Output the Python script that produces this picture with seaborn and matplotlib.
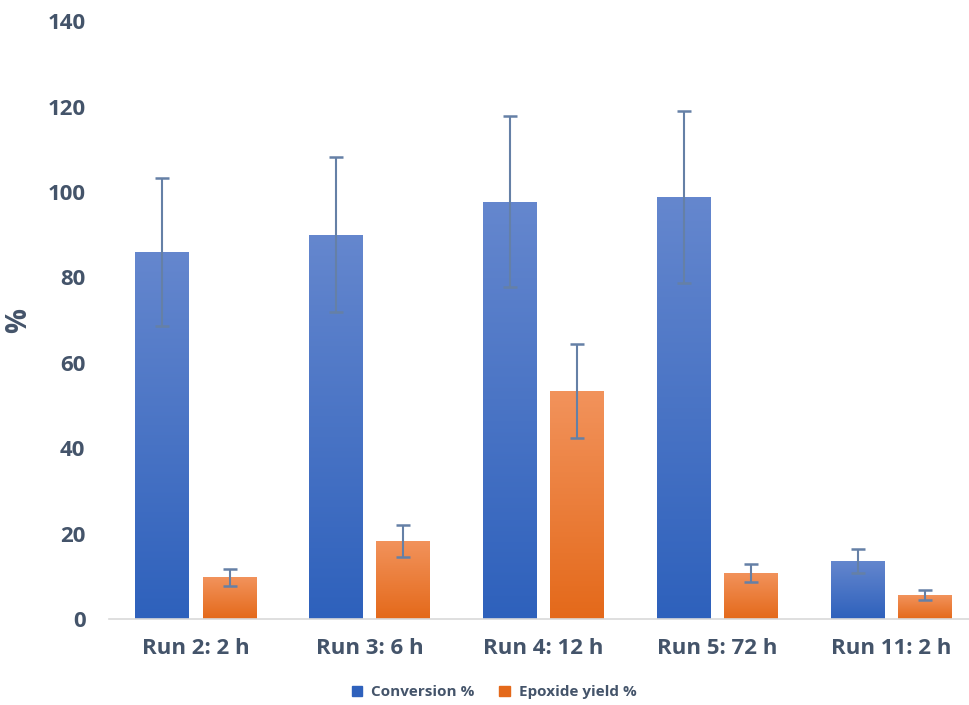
import numpy as np
import pandas as pd
import matplotlib
matplotlib.use('Agg')
import matplotlib.pyplot as plt
import seaborn as sns
from matplotlib.colors import LinearSegmentedColormap

runs = ['Run 2: 2 h', 'Run 3: 6 h', 'Run 4: 12 h', 'Run 5: 72 h', 'Run 11: 2 h']
series = ['Conversion %', 'Epoxide yield %']
conversion = [86.0, 90.0, 97.7, 98.8, 13.6]
conversion_err = [17.3, 18.2, 20.0, 20.2, 2.8]
epoxide = [9.8, 18.3, 53.4, 10.8, 5.6]
epoxide_err = [2.0, 3.8, 11.0, 2.1, 1.2]

txt = '#44546A'
grad = {
    'Conversion %': ('#2E61BC', '#6587CE'),
    'Epoxide yield %': ('#E4691A', '#F2935C'),
}

df = pd.DataFrame({
    'run': runs * 2,
    'series': [series[0]] * 5 + [series[1]] * 5,
    'value': conversion + epoxide,
    'err': conversion_err + epoxide_err,
})

sns.set_theme(style='white')
plt.rcParams['font.family'] = ['Open Sans', 'DejaVu Sans']

fig = plt.figure(figsize=(9.69, 7.05), dpi=100)
ax = fig.add_axes([0.1125, 0.122, 0.897, 0.848])

sns.barplot(data=df, x='run', y='value', hue='series', hue_order=series,
            palette=[grad[s][0] for s in series], width=0.774, gap=0.2,
            errorbar=None, legend=False, ax=ax)

# gradient fill + error bars from the drawn patches
for cont, s in zip(ax.containers, series):
    cmap = LinearSegmentedColormap.from_list(s, list(grad[s]))
    errs = df[df.series == s]['err'].values
    for bar, e in zip(cont, errs):
        x0, w, h = bar.get_x(), bar.get_width(), bar.get_height()
        bar.set_facecolor('none')
        bar.set_edgecolor('none')
        im = ax.imshow(np.linspace(0, 1, 256).reshape(-1, 1), cmap=cmap,
                       origin='lower', aspect='auto',
                       extent=[x0, x0 + w, 0, h], zorder=2)
        im.set_clip_path(bar)
        ax.errorbar(x0 + w / 2, h, yerr=e, color='#6580A6', lw=1.5,
                    capsize=5, capthick=1.8, zorder=4)

ax.set_xlim(-0.5, 4.5)
ax.set_ylim(0, 140)
ax.set_yticks(range(0, 141, 20))
for sp in ['top', 'right', 'left']:
    ax.spines[sp].set_visible(False)
ax.spines['bottom'].set_color('#D9D9D9')
ax.spines['bottom'].set_linewidth(1.2)
ax.tick_params(axis='both', length=0, labelsize=16, labelcolor=txt)
ax.tick_params(axis='y', pad=17)
ax.tick_params(axis='x', pad=14)
for lab in ax.get_xticklabels() + ax.get_yticklabels():
    lab.set_fontweight('bold')
ax.set_xlabel('')
ax.set_ylabel('%', fontsize=20, fontweight='bold', color=txt, labelpad=10)

handles = [plt.Rectangle((0, 0), 1, 1, color=grad[s][0]) for s in series]
fig.legend(handles, series, loc='center', bbox_to_anchor=(0.51, 0.018),
           ncol=2, frameon=False, handlelength=0.7, handleheight=0.7,
           columnspacing=1.6, handletextpad=0.6,
           prop={'size': 11, 'weight': 'bold'}, labelcolor=txt)

fig.savefig('out.png', dpi=100)
